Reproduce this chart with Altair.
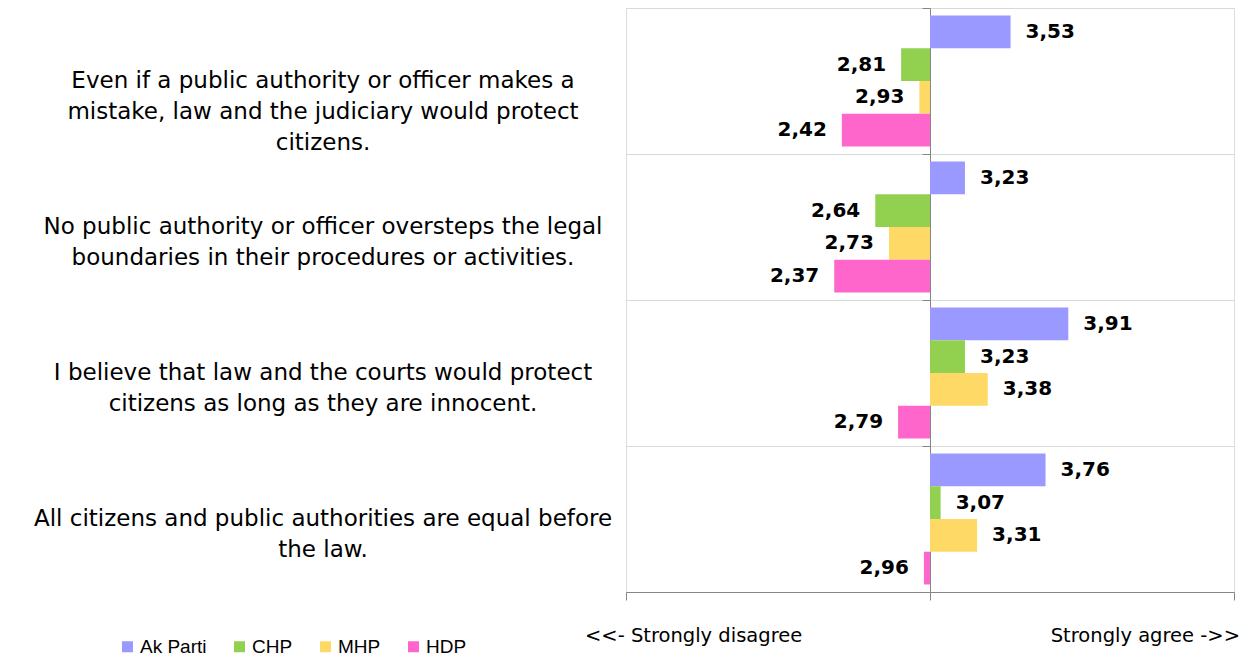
import altair as alt
import pandas as pd

questions = [
    "Even if a public authority or officer makes a\nmistake, law and the judiciary would protect\ncitizens.",
    "No public authority or officer oversteps the legal\nboundaries in their procedures or activities.",
    "I believe that law and the courts would protect\ncitizens as long as they are innocent.",
    "All citizens and public authorities are equal before\nthe law.",
]
parties = ["Ak Parti", "CHP", "MHP", "HDP"]
colors = ["#9999FF", "#92D050", "#FFD966", "#FF66CC"]
ak_parti = [3.53, 3.23, 3.91, 3.76]
chp = [2.81, 2.64, 3.23, 3.07]
mhp = [2.93, 2.73, 3.38, 3.31]
hdp = [2.42, 2.37, 2.79, 2.96]
axis_labels = ["<<- Strongly disagree", "Strongly agree ->>"]
axis_label_pos = [1, 5]
midpoint = 3

rows = []
for qi, q in enumerate(questions):
    for p, series in zip(parties, [ak_parti, chp, mhp, hdp]):
        v = series[qi]
        rows.append({"question": q, "party": p, "value": v,
                     "label": f"{v:.2f}".replace(".", ",")})
df = pd.DataFrame(rows)
df_q = pd.DataFrame({"question": questions})
df_ends = pd.DataFrame({"pos": axis_label_pos, "text": axis_labels})

W, H = 608, 584

xscale = alt.Scale(domain=[1, 5], nice=False, zero=False)
yenc = alt.Y("question:N", sort=questions,
             scale=alt.Scale(paddingInner=0, paddingOuter=0),
             axis=alt.Axis(orient="left", offset=-W / 2, labels=False, title=None,
                           tickBand="extent", tickSize=8, tickColor="#868686",
                           domainColor="#868686", grid=True, gridColor="#D9D9D9"))
yoff = alt.YOffset("party:N", sort=parties,
                   scale=alt.Scale(paddingOuter=0.23, paddingInner=0))

base = alt.Chart(df)

bars = base.mark_bar().encode(
    x=alt.X("value:Q", scale=xscale,
            axis=alt.Axis(values=[1, 3, 5], labels=False, title=None, grid=False,
                          tickSize=8, tickColor="#868686", domainColor="#868686")),
    x2=alt.datum(midpoint),
    y=yenc,
    yOffset=yoff,
    color=alt.Color("party:N", sort=parties,
                    scale=alt.Scale(domain=parties, range=colors),
                    legend=alt.Legend(orient="none", direction="horizontal", columns=4,
                                      legendX=-508, legendY=629, title=None,
                                      symbolType="square", symbolSize=121,
                                      symbolStrokeWidth=0,
                                      labelFontSize=19, labelFont="Liberation Sans",
                                      labelColor="#000000", labelOffset=3,
                                      columnPadding=23)),
)

lab_font = dict(font="DejaVu Sans", fontWeight="bold", fontSize=20, color="#000000",
                baseline="middle")
pos_labels = base.transform_filter(alt.datum.value >= midpoint).mark_text(
    align="left", dx=15, **lab_font).encode(
    x=alt.X("value:Q", scale=xscale), y=alt.Y("question:N", sort=questions), yOffset=yoff,
    text="label:N")
neg_labels = base.transform_filter(alt.datum.value < midpoint).mark_text(
    align="right", dx=-15, **lab_font).encode(
    x=alt.X("value:Q", scale=xscale), y=alt.Y("question:N", sort=questions), yOffset=yoff,
    text="label:N")

qtext = alt.Chart(df_q).mark_text(
    align="center", baseline="middle", lineBreak="\n", fontSize=23,
    font="DejaVu Sans", color="#000000", lineHeight=31).encode(
    x=alt.value(-303), y=alt.Y("question:N", sort=questions), text="question:N")

end_font = dict(baseline="middle", fontSize=19.5, font="DejaVu Sans", color="#000000")
left_end = alt.Chart(df_ends).transform_filter(alt.datum.pos == 1).mark_text(
    align="left", dx=-41, **end_font).encode(
    x=alt.X("pos:Q", scale=xscale), y=alt.value(H + 44), text="text:N")
right_end = alt.Chart(df_ends).transform_filter(alt.datum.pos == 5).mark_text(
    align="right", dx=6, **end_font).encode(
    x=alt.X("pos:Q", scale=xscale), y=alt.value(H + 44), text="text:N")

chart = alt.layer(bars, pos_labels, neg_labels, qtext, left_end, right_end).properties(
    width=W, height=H,
    autosize=alt.AutoSizeParams(type="none"),
    padding={"left": 618, "top": 0, "right": 8, "bottom": 66},
).configure_view(stroke="#D9D9D9", strokeWidth=1).configure(background="white")

chart.save("out.html", embed_options={"renderer": "svg", "actions": False})
